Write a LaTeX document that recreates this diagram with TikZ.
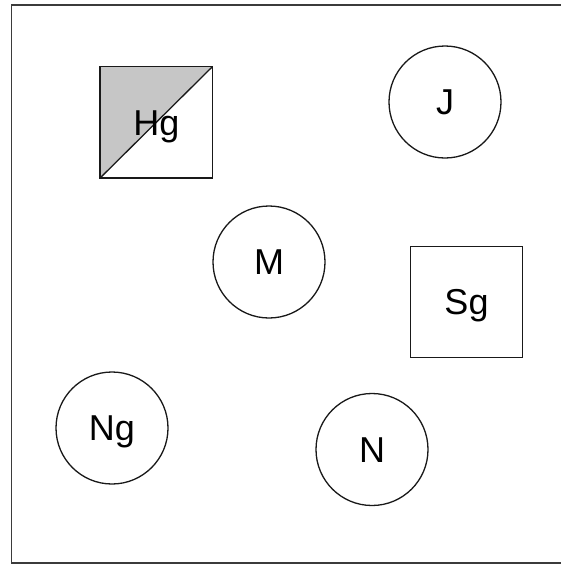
\documentclass[tikz,border=0pt]{standalone}
\usepackage{fontspec}
\setmainfont{Liberation Sans}
\definecolor{hgshade}{RGB}{198,198,198}
\definecolor{ink}{RGB}{25,25,25}
\begin{document}
\begin{tikzpicture}[x=1pt,y=-1pt,
  every node/.style={font=\fontsize{36}{40}\selectfont, text height=25.8pt, text depth=0pt, inner sep=0pt},
  ring/.style={circle, draw=ink, line width=1.3pt, minimum size=112pt},
  boxnode/.style={rectangle, draw=ink, line width=1.3pt, minimum width=112.5pt, minimum height=111.5pt},
  halfshade/.style={path picture={
      \fill[hgshade] (path picture bounding box.north west) -- (path picture bounding box.north east)
                   -- (path picture bounding box.south west) -- cycle;
      \draw[ink, line width=1.3pt] (path picture bounding box.south west) -- (path picture bounding box.north east);}}]
  \useasboundingbox (0,0) rectangle (561,565);
  % frame, open on the right
  \draw[ink!85, line width=1.6pt] (561,5) -- (11.5,5) -- (11.5,563) -- (561,563);
  % squares
  \node[boxnode, halfshade] (hg) at (156.3,122.3) {Hg};
  \node[boxnode] (sg) at (466.5,302) {Sg};
  % circles
  \node[ring] (j) at (445,102) {J};
  \node[ring] (m) at (269,262) {M};
  \node[ring] (ng) at (112,428) {Ng};
  \node[ring] (n) at (372,449.5) {N};
\end{tikzpicture}
\end{document}
